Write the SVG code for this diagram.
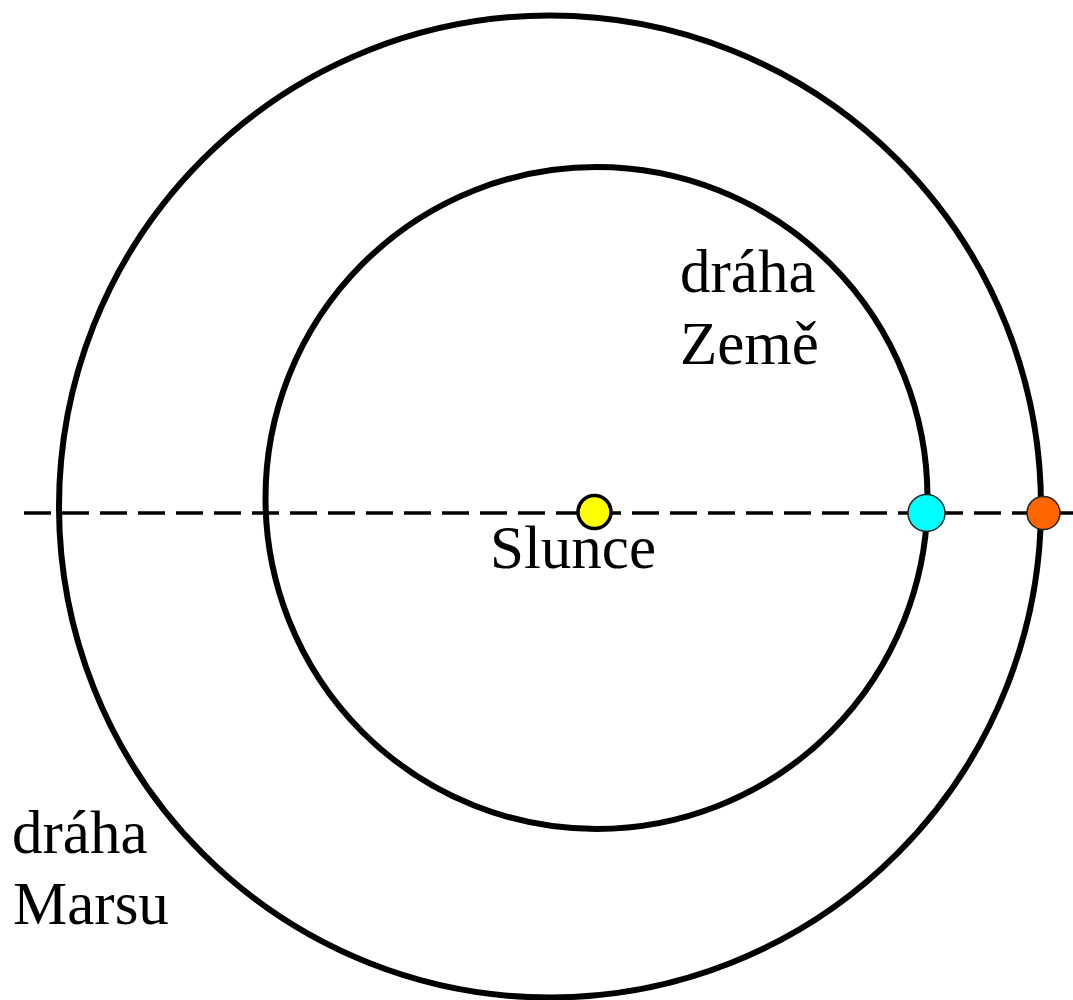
<svg xmlns="http://www.w3.org/2000/svg" width="1073" height="1000" viewBox="0 0 1073 1000">
<style>
.orbit{fill:none;stroke:#000;stroke-width:6}
.lbl{font-family:"Liberation Serif","Times New Roman",serif;font-size:61px;fill:#000}
</style>
<rect width="1073" height="1000" fill="#fff"/>
<g id="connectors">
<line x1="24" y1="513" x2="1073" y2="513" stroke="#000" stroke-width="3.5" stroke-dasharray="27 11"/>
</g>
<g id="orbit-mars"><circle class="orbit" cx="550" cy="506.5" r="491"/></g>
<g id="orbit-earth"><circle class="orbit" cx="596.5" cy="498" r="331"/></g>
<g id="sun"><circle cx="594.5" cy="512" r="16.5" fill="#ffff00" stroke="#000" stroke-width="3.5"/></g>
<g id="earth"><circle cx="926.5" cy="513" r="18.5" fill="#00ffff" stroke="#222" stroke-width="1.5"/></g>
<g id="mars"><circle cx="1043.5" cy="513" r="16.5" fill="#ff6600" stroke="#222" stroke-width="1.5"/></g>
<g id="label-slunce"><text class="lbl" x="490" y="568">Slunce</text></g>
<g id="label-zeme"><text class="lbl" x="680" y="292">dráha</text><text class="lbl" x="680" y="364">Země</text></g>
<g id="label-mars"><text class="lbl" x="12" y="853">dráha</text><text class="lbl" x="13" y="924">Marsu</text></g>
</svg>
